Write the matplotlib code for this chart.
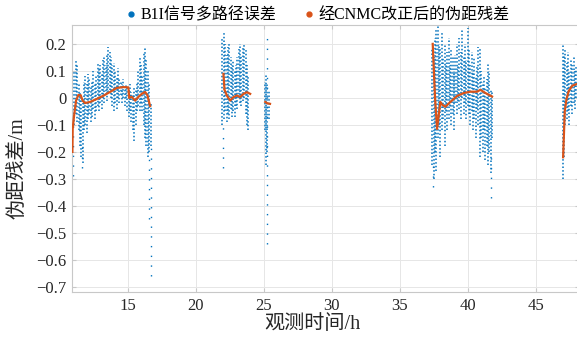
import numpy as np
import matplotlib
matplotlib.use("Agg")
import matplotlib.pyplot as plt
from matplotlib.lines import Line2D
from matplotlib.ticker import FuncFormatter

plt.rcParams["font.family"] = ["Liberation Serif", "Noto Sans CJK SC"]
plt.rcParams["axes.unicode_minus"] = True

BLUE = "#0072BD"
ORANGE = "#D95319"

# B1I multipath error: vertical bands of samples (time, low, high)
b1i_t = [10.90, 11.05, 11.15, 11.25, 11.35, 11.45, 11.55, 11.65, 11.75, 11.85, 11.95,
         12.05, 12.15, 12.25, 12.35, 12.45, 12.55, 12.65, 12.75, 12.85, 12.95, 13.05,
         13.15, 13.25, 13.35, 13.45, 13.55, 13.65, 13.75, 13.85, 13.95, 14.05, 14.15,
         14.25, 14.35, 14.45, 14.55, 14.65, 14.75, 14.85, 14.95, 15.05, 15.15, 15.25,
         15.35, 15.45, 15.55, 15.65, 15.75, 15.85, 15.95, 16.05, 16.15, 16.25, 16.35,
         16.45, 16.55, 16.65,
         21.95, 22.05, 22.15, 22.25, 22.35, 22.45, 22.55, 22.65, 22.75, 22.85, 22.95,
         23.05, 23.15, 23.25, 23.35, 23.45, 23.55, 23.65, 23.75, 23.85,
         25.05, 25.15, 25.25, 25.35,
         37.40, 37.50, 37.60, 37.70, 37.80, 37.90, 38.00, 38.10, 38.20, 38.30, 38.40,
         38.50, 38.60, 38.70, 38.80, 38.90, 39.00, 39.10, 39.20, 39.30, 39.40, 39.50,
         39.60, 39.70, 39.80, 39.90, 40.00, 40.10, 40.20, 40.30, 40.40, 40.50, 40.60,
         40.70, 40.80, 40.90, 41.00, 41.10, 41.20, 41.30, 41.40, 41.50, 41.60, 41.70,
         41.80,
         47.00, 47.10, 47.20, 47.30, 47.40, 47.50, 47.60, 47.70, 47.80, 47.90, 48.00]
b1i_lo = [-0.21, -0.10, -0.06, -0.09, -0.12, -0.18, -0.22, -0.24, -0.12, -0.10, -0.13,
          -0.08, -0.06, -0.09, -0.07, -0.04, -0.08, -0.05, -0.03, -0.05, -0.02, -0.04,
          0.00, -0.02, 0.01, -0.01, 0.02, 0.03, 0.00, -0.03, -0.05, -0.02, -0.04,
          0.00, -0.02, 0.01, -0.02, 0.00, -0.03, 0.00, -0.05, -0.07, -0.05, -0.09,
          -0.12, -0.16, -0.10, -0.05, -0.03, -0.05, -0.02, -0.05, -0.10, -0.15, -0.18,
          -0.22, -0.20, -0.18,
          -0.10, -0.08, -0.05, -0.09, -0.06, -0.08, -0.04, -0.07, -0.05, -0.07, -0.03,
          -0.04, 0.00, -0.02, -0.03, -0.01, 0.00, -0.06, -0.10, -0.12,
          -0.12, -0.25, -0.20, -0.08,
          -0.25, -0.30, -0.20, -0.27, -0.15, -0.10, -0.22, -0.12, -0.08, -0.18, -0.05,
          -0.12, -0.08, -0.03, -0.10, -0.06, -0.12, -0.02, -0.06, -0.01, -0.04, -0.08,
          0.00, -0.06, -0.02, -0.08, -0.03, -0.06, -0.10, -0.05, -0.12, -0.08, -0.15,
          -0.04, -0.10, -0.22, -0.15, -0.20, -0.12, -0.23, -0.18, -0.25, -0.20, -0.28,
          -0.15,
          -0.30, -0.22, -0.10, -0.08, -0.05, -0.10, -0.03, -0.06, -0.02, -0.04, 0.00]
b1i_hi = [0.04, 0.10, 0.14, 0.12, 0.05, 0.02, 0.00, -0.02, 0.06, 0.08, 0.05,
          0.09, 0.07, 0.04, 0.06, 0.10, 0.05, 0.08, 0.13, 0.11, 0.12, 0.09,
          0.14, 0.15, 0.12, 0.16, 0.19, 0.17, 0.15, 0.12, 0.13, 0.10, 0.08,
          0.11, 0.07, 0.06, 0.05, 0.07, 0.04, 0.05, 0.04, 0.03, 0.05, 0.02,
          0.01, 0.04, 0.03, 0.06, 0.10, 0.15, 0.12, 0.08, 0.17, 0.19, 0.14,
          0.10, 0.05, -0.02,
          0.22, 0.24, 0.20, 0.16, 0.19, 0.20, 0.15, 0.12, 0.14, 0.10, 0.12,
          0.15, 0.18, 0.20, 0.16, 0.19, 0.20, 0.18, 0.12, 0.08,
          0.06, 0.09, 0.05, 0.03,
          0.18, 0.15, 0.22, 0.25, 0.27, 0.20, 0.18, 0.24, 0.15, 0.20, 0.13,
          0.17, 0.22, 0.12, 0.18, 0.15, 0.10, 0.16, 0.20, 0.12, 0.22, 0.17,
          0.25, 0.15, 0.20, 0.14, 0.26, 0.18, 0.12, 0.17, 0.10, 0.15, 0.08,
          0.12, 0.19, 0.18, 0.10, 0.06, 0.08, 0.04, 0.07, 0.13, 0.10, 0.03,
          0.02,
          0.20, 0.16, 0.18, 0.13, 0.17, 0.10, 0.14, 0.12, 0.15, 0.10, 0.12]

# sparse outlier tails
tail_t = [10.97, 11.62, 16.52, 16.66, 22.02, 25.20, 37.45, 41.75]
tail_lo = [-0.29, -0.26, -0.45, -0.66, -0.26, -0.54, -0.33, -0.37]
tail_hi = [-0.05, -0.18, -0.22, -0.18, -0.10, 0.24, -0.25, -0.20]

# pseudorange residual after CNMC correction, one list per arc
cnmc_t1 = [10.90, 10.92, 11.02, 11.17, 11.34, 11.51, 11.66, 11.83, 12.20, 12.69, 13.18,
           13.67, 14.17, 14.65, 15.02, 15.08, 15.27, 15.52, 15.76, 16.01, 16.25, 16.42, 16.62]
cnmc_v1 = [-0.20, -0.115, -0.067, -0.010, 0.011, 0.010, -0.011, -0.019, -0.015, -0.004, 0.008,
           0.022, 0.037, 0.040, 0.039, 0.000, 0.004, -0.010, 0.004, 0.015, 0.022, 0.010, -0.030]
cnmc_t2 = [22.02, 22.10, 22.27, 22.52, 22.76, 23.01, 23.25, 23.50, 23.75, 23.99]
cnmc_v2 = [0.089, 0.030, 0.009, -0.010, 0.003, 0.009, 0.003, 0.015, 0.021, 0.015]
cnmc_t3 = [25.10, 25.25, 25.45]
cnmc_v3 = [-0.015, -0.020, -0.022]
cnmc_t4 = [37.43, 37.60, 37.75, 37.99, 38.12, 38.36, 38.73, 39.22, 39.71, 40.20, 40.70,
           40.94, 41.31, 41.80]
cnmc_v4 = [0.200, 0.000, -0.115, -0.015, -0.025, -0.033, -0.015, 0.007, 0.018, 0.023, 0.023,
           0.030, 0.018, 0.005]
cnmc_t5 = [47.03, 47.08, 47.15, 47.28, 47.45, 47.70, 48.07]
cnmc_v5 = [-0.22, -0.15, -0.05, -0.004, 0.026, 0.045, 0.052]

x_ticks = [15, 20, 25, 30, 35, 40, 45]
y_ticks = [-0.7, -0.6, -0.5, -0.4, -0.3, -0.2, -0.1, 0, 0.1, 0.2]


def tick_fmt(v, pos):
    if abs(v) < 1e-9:
        return "0"
    return f"{v:.1f}".replace("-", "\u2212")


fig = plt.figure(figsize=(5.77, 3.37), dpi=100)
ax = fig.add_axes([72 / 577, 45 / 337, 507 / 577, 267 / 337])

ax.vlines(b1i_t, b1i_lo, b1i_hi, colors=BLUE, linestyles=(0, (1, 1.4)), linewidth=1.1, zorder=2)
ax.vlines(tail_t, tail_lo, tail_hi, colors=BLUE, linestyles=(0, (1, 6)), linewidth=1.0, zorder=2)
for t, v in [(cnmc_t1, cnmc_v1), (cnmc_t2, cnmc_v2), (cnmc_t3, cnmc_v3),
             (cnmc_t4, cnmc_v4), (cnmc_t5, cnmc_v5)]:
    ax.plot(t, v, color=ORANGE, lw=1.6, zorder=3)

ax.set_xlim(10.87, 48.2)
ax.set_ylim(-0.719, 0.27)
ax.set_xticks(x_ticks)
ax.set_yticks(y_ticks)
ax.yaxis.set_major_formatter(FuncFormatter(tick_fmt))
ax.grid(True, color="#E6E6E6", lw=0.7, zorder=0)
ax.set_axisbelow(True)
for s in ax.spines.values():
    s.set_color("#C8C8C8")
    s.set_linewidth(0.8)
ax.tick_params(direction="in", length=3, color="#C8C8C8", labelsize=12, labelcolor="#262626",
               pad=4, top=True, right=True)
for lbl in ax.get_xticklabels() + ax.get_yticklabels():
    lbl.set_fontfamily(["Liberation Serif", "DejaVu Serif"])

ax.set_xlabel("观测时间/h", fontsize=14.5, color="#262626")
ax.xaxis.set_label_coords(0.475, -0.088)
ax.set_ylabel("伪距残差/m", fontsize=14.5, color="#262626")
ax.yaxis.set_label_coords(-0.087, 0.464)

handles = [Line2D([], [], marker="o", ls="none", color=BLUE, markersize=3.5),
           Line2D([], [], marker="o", ls="none", color=ORANGE, markersize=3.5)]
fig.legend(handles, ["B1I信号多路径误差", "经CNMC改正后的伪距残差"], loc="upper center",
           bbox_to_anchor=(0.5495, 1.02), ncol=2, frameon=False, fontsize=11.5,
           handletextpad=0.2, columnspacing=1.65, handlelength=0.8)

fig.savefig("out.png", dpi=100)
